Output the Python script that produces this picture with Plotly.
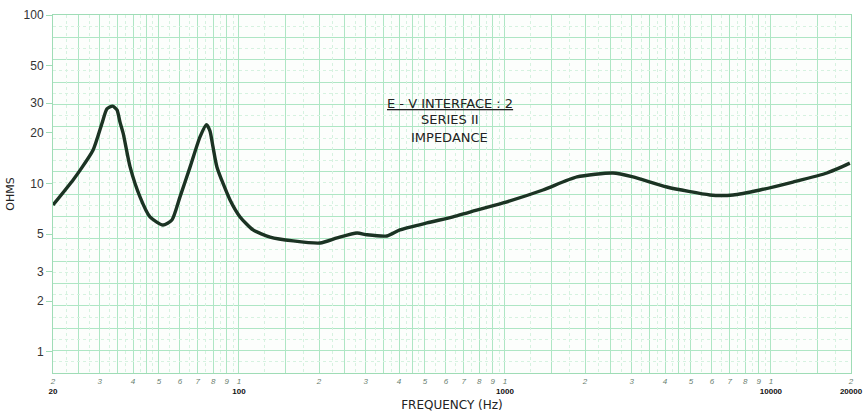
import numpy as np
import plotly.graph_objects as go

# ---- data ----
freq_hz = [20, 23.8, 25.3, 28.3, 30.6, 31.9, 33.5, 34.8, 35.7, 36.7, 39.0, 42.5, 46.3, 51.8, 56.0,
           60.0, 65.5, 71.4, 75.5, 77.8, 79.9, 82.7, 92.6, 101, 113, 131, 160, 202, 234, 278,
           303, 360, 403, 509, 638, 739, 984, 1390, 1866, 2548, 3030, 4064, 5900, 7200,
           9100, 12100, 16240, 19800]
impedance_ohms = [7.45, 10.5, 12.0, 15.8, 22.9, 27.7, 28.8, 27.3, 23.2, 19.9, 12.5, 8.3, 6.33, 5.67, 6.07,
                  8.3, 12.5, 18.9, 22.3, 20.5, 16.5, 12.5, 7.98, 6.33, 5.30, 4.81, 4.56, 4.43, 4.75, 5.08,
                  4.96, 4.88, 5.30, 5.83, 6.33, 6.77, 7.66, 9.15, 10.93, 11.54, 10.93, 9.53, 8.55, 8.55,
                  9.15, 10.2, 11.54, 13.2]

y_tick_vals = [1, 2, 3, 5, 10, 20, 30, 50, 100]
y_tick_text = ["1", "2", "3", "5", "10", "20", "30", "50", "100"]

decades = [10, 100, 1000, 10000]
mults = [1, 2, 3, 4, 5, 6, 7, 8, 9]
half_mults = [1.5, 2.5, 3.5, 4.5]
fine_mults = [1.25, 1.75, 2.25, 2.75, 3.25, 3.75, 4.25, 4.75, 5.5, 6.5, 7.5, 8.5, 9.5]
decade_labels = {20: "20", 100: "100", 1000: "1000", 10000: "10000", 20000: "20000"}

title_lines = ["<u>E - V INTERFACE : 2</u>", "SERIES II", "IMPEDANCE"]
x_title = "FREQUENCY (Hz)"
y_title = "OHMS"

# ---- build axis ticks ----
x_tick_vals = []
x_tick_text = []
for d in decades:
    for m in mults:
        v = m * d
        if v < 20 or v > 20000:
            continue
        x_tick_vals.append(v)
        digit = "<span style='color:#6a7f70'><i>%d</i></span>" % m
        if v in decade_labels:
            x_tick_text.append(digit + "<br><b>%s</b>" % decade_labels[v])
        else:
            x_tick_text.append(digit)
x_tick_vals.append(20000)
x_tick_text.append("<span style='color:#6a7f70'><i>2</i></span><br><b>20000</b>")

x_minor = [m * d for d in decades for m in half_mults if 20 <= m * d <= 20000]
x_fine = [m * d for d in decades for m in fine_mults if 20 <= m * d <= 20000]

y_lo, y_hi = np.log10(0.75), 2.0
y_minor = [10 ** (y_lo + k * (y_hi - y_lo) / 16) for k in range(17)]
y_fine = [10 ** (y_lo + (k + 0.5) * (y_hi - y_lo) / 16) for k in range(16)]

grid_col = "#aee6c4"
fine_col = "#d6f2e0"
x_range = [np.log10(20), np.log10(20000)]

fig = go.Figure()
# invisible helper trace so the fine-grid overlay axes are drawn
fig.add_trace(go.Scatter(
    x=[freq_hz[0]], y=[impedance_ohms[0]], mode="markers", marker=dict(opacity=0),
    xaxis="x2", yaxis="y2", hoverinfo="skip", showlegend=False,
))
fig.add_trace(go.Scatter(
    x=freq_hz, y=impedance_ohms, mode="lines",
    line=dict(color="#1b3323", width=3.4, shape="spline", smoothing=0.6),
    hoverinfo="x+y", showlegend=False,
))

fig.update_layout(
    width=863, height=414,
    margin=dict(l=53, r=12, t=15, b=41),
    paper_bgcolor="white",
    plot_bgcolor="#fcfefc",
    font=dict(family="Liberation Sans, Arial, sans-serif", color="#333"),
    xaxis=dict(
        type="log", range=x_range, automargin=False,
        tickmode="array", tickvals=x_tick_vals, ticktext=x_tick_text,
        tickfont=dict(size=8, color="#111"), tickangle=0,
        ticks="", showgrid=True, gridcolor=grid_col, gridwidth=1,
        minor=dict(tickmode="array", tickvals=x_minor, showgrid=True,
                   gridcolor=grid_col, gridwidth=1, ticks=""),
        showline=True, linecolor="#9fdcb6", linewidth=1, mirror=True,
        zeroline=False,
        title=dict(text=x_title, font=dict(family="DejaVu Sans", size=12, color="#222"), standoff=5),
    ),
    yaxis=dict(
        type="log", range=[y_lo, y_hi], automargin=False,
        tickmode="array", tickvals=y_tick_vals, ticktext=y_tick_text,
        tickfont=dict(size=12, color="#333"),
        ticks="outside", ticklen=6, tickcolor="#9fdcb6",
        showgrid=False,
        minor=dict(tickmode="array", tickvals=y_minor, showgrid=True,
                   gridcolor=grid_col, gridwidth=1, ticks=""),
        showline=True, linecolor="#9fdcb6", linewidth=1, mirror=True,
        zeroline=False,
        title=dict(text=y_title, font=dict(family="DejaVu Sans", size=11, color="#222"), standoff=6),
    ),
    xaxis2=dict(
        type="log", range=x_range, overlaying="x", automargin=False,
        tickmode="array", tickvals=x_fine, showticklabels=False, ticks="",
        showgrid=True, gridcolor=fine_col, gridwidth=1, griddash="dot",
        zeroline=False, showline=False,
    ),
    yaxis2=dict(
        type="log", range=[y_lo, y_hi], overlaying="y", automargin=False,
        tickmode="array", tickvals=y_fine, showticklabels=False, ticks="",
        showgrid=True, gridcolor=fine_col, gridwidth=1, griddash="dot",
        zeroline=False, showline=False,
    ),
)

title_y = [0.754, 0.709, 0.659]
for txt, yy in zip(title_lines, title_y):
    fig.add_annotation(text=txt, xref="paper", yref="paper", x=0.497, y=yy,
                       showarrow=False, font=dict(family="DejaVu Sans", size=13, color="#222"),
                       xanchor="center", yanchor="middle")

fig.write_html("out.html", config={"displayModeBar": False},
               post_script="document.body.style.margin='0';")
